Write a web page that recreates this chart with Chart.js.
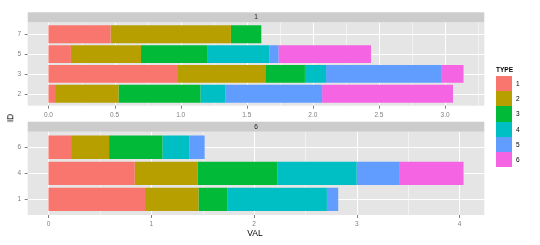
<!DOCTYPE html>
<html>
<head>
<meta charset="utf-8">
<script src="https://cdn.jsdelivr.net/npm/chart.js@4/dist/chart.umd.min.js"></script>
<style>
    body {margin: 0; background: #fff; font-family: "Liberation Sans", Arial, sans-serif;}
    #wrap {position: relative; width: 540px; height: 245px; overflow: hidden;}
    canvas {position: absolute; left: 0; top: 0;}
    .lbl {position: absolute; white-space: nowrap;}
</style>
</head>
<body>
<div id="wrap">
    <canvas id="facet-1" width="540" height="245"></canvas>
    <canvas id="facet-6" width="540" height="245"></canvas>
    <div class="lbl" id="x-title" style="left:240px; top:228px; width:30px; text-align:center; font-size:8.5px; color:#000;">VAL</div>
    <div class="lbl" id="y-title" style="left:6px; top:113px; font-size:8.5px; color:#000; transform:rotate(-90deg); transform-origin:center;">ID</div>
    <div id="legend"></div>
</div>
<script>
const types = ['1', '2', '3', '4', '5', '6'];
const typeColors = ['#F8766D', '#B79F00', '#00BA38', '#00BFC4', '#619CFF', '#F564E3'];
const facetLabels = ['1', '6'];

// facet "1"
const f1Ids = ['7', '5', '3', '2'];
const f1Type1 = [0.47, 0.17, 0.98, 0.05];
const f1Type2 = [0.91, 0.53, 0.66, 0.48];
const f1Type3 = [0.23, 0.50, 0.30, 0.62];
const f1Type4 = [null, 0.47, 0.16, 0.19];
const f1Type5 = [null, 0.07, 0.87, 0.73];
const f1Type6 = [null, 0.70, 0.17, 0.99];
const f1Ticks = [0, 0.5, 1, 1.5, 2, 2.5, 3];

// facet "6"
const f6Ids = ['6', '4', '1'];
const f6Type1 = [0.22, 0.84, 0.94];
const f6Type2 = [0.37, 0.61, 0.52];
const f6Type3 = [0.52, 0.78, 0.28];
const f6Type4 = [0.26, 0.77, 0.97];
const f6Type5 = [0.15, 0.42, 0.11];
const f6Type6 = [null, 0.62, null];
const f6Ticks = [0, 1, 2, 3, 4];

const panelLeft = 27.7, panelRight = 484.3;
const tickColor = '#7F7F7F';

// draws ggplot-ish panel background, grid, strip and tick marks
const panelPlugin = {
    id: 'ggPanel',
    beforeDatasetsDraw(chart, args, opts) {
        const {ctx, chartArea: a, scales} = chart;
        const n = chart.data.labels.length;
        const ext = 0.1 * (a.bottom - a.top) / n;
        const top = a.top - ext, bottom = a.bottom + ext;
        ctx.save();
        ctx.fillStyle = '#E5E5E5';
        ctx.fillRect(a.left, top, a.right - a.left, bottom - top);

        const major = opts.ticks;
        const step = major[1] - major[0];
        const minor = [];
        for (let i = 0; i <= major.length; i++) minor.push(major[0] - step / 2 + i * step);
        ctx.lineWidth = 1;
        ctx.strokeStyle = '#F2F2F2';
        minor.forEach(v => {
            if (v < scales.x.min || v > scales.x.max) return;
            const x = Math.round(scales.x.getPixelForValue(v)) + 0.5;
            ctx.beginPath(); ctx.moveTo(x, top); ctx.lineTo(x, bottom); ctx.stroke();
        });
        ctx.strokeStyle = '#FFFFFF';
        major.forEach(v => {
            const x = Math.round(scales.x.getPixelForValue(v)) + 0.5;
            ctx.beginPath(); ctx.moveTo(x, top); ctx.lineTo(x, bottom); ctx.stroke();
        });
        chart.data.labels.forEach((l, i) => {
            const y = Math.round(scales.y.getPixelForValue(i)) + 0.5;
            ctx.beginPath(); ctx.moveTo(a.left, y); ctx.lineTo(a.right, y); ctx.stroke();
        });

        // strip
        ctx.fillStyle = '#CCCCCC';
        ctx.fillRect(a.left, top - 10, a.right - a.left, 10);
        ctx.fillStyle = '#1A1A1A';
        ctx.font = '6.5px "Liberation Sans", Arial, sans-serif';
        ctx.textAlign = 'center';
        ctx.textBaseline = 'middle';
        ctx.fillText(opts.strip, (a.left + a.right) / 2, top - 4.8);

        // tick marks
        ctx.strokeStyle = tickColor;
        major.forEach(v => {
            const x = Math.round(scales.x.getPixelForValue(v)) + 0.5;
            ctx.beginPath(); ctx.moveTo(x, bottom); ctx.lineTo(x, bottom + 3); ctx.stroke();
        });
        chart.data.labels.forEach((l, i) => {
            const y = Math.round(scales.y.getPixelForValue(i)) + 0.5;
            ctx.beginPath(); ctx.moveTo(a.left - 3, y); ctx.lineTo(a.left, y); ctx.stroke();
        });
        ctx.restore();
    }
};

function renderFacet(canvasId, ids, series, ticks, xMin, xMax, panelTop, panelBottom, strip, fmt) {
    const unit = (panelBottom - panelTop) / (ids.length + 0.2);
    const chartTop = panelTop + 0.1 * unit;
    const chartBottom = panelBottom - 0.1 * unit;
    const xAxisHeight = 20;

    const ctx = document.getElementById(canvasId).getContext('2d');
    return new Chart(ctx, {
        type: 'bar',
        data: {
            labels: ids,
            datasets: series.map((data, i) => ({
                label: types[i],
                data: data,
                backgroundColor: typeColors[i],
                borderWidth: 0,
                categoryPercentage: 0.9,
                barPercentage: 1.0
            }))
        },
        options: {
            indexAxis: 'y',
            responsive: false,
            animation: false,
            layout: {
                padding: {top: chartTop, left: 0, right: 540 - panelRight, bottom: 245 - chartBottom - xAxisHeight}
            },
            scales: {
                x: {
                    type: 'linear',
                    stacked: true,
                    min: xMin,
                    max: xMax,
                    afterBuildTicks: scale => { scale.ticks = ticks.map(v => ({value: v})); },
                    afterFit: scale => { scale.height = xAxisHeight; },
                    ticks: {
                        color: tickColor,
                        font: {family: '"Liberation Sans", Arial, sans-serif', size: 6.5},
                        padding: (panelBottom + 5.5) - chartBottom,
                        maxRotation: 0,
                        autoSkip: false,
                        callback: v => fmt(v)
                    },
                    grid: {display: false, drawTicks: false},
                    border: {display: false}
                },
                y: {
                    stacked: true,
                    afterFit: scale => { scale.width = panelLeft; },
                    ticks: {
                        color: tickColor,
                        font: {family: '"Liberation Sans", Arial, sans-serif', size: 6.5},
                        padding: 6.5
                    },
                    grid: {display: false, drawTicks: false},
                    border: {display: false}
                }
            },
            plugins: {
                legend: {display: false},
                tooltip: {enabled: false},
                ggPanel: {ticks: ticks, strip: strip}
            }
        },
        plugins: [panelPlugin]
    });
}

renderFacet('facet-1', f1Ids, [f1Type1, f1Type2, f1Type3, f1Type4, f1Type5, f1Type6],
    f1Ticks, -0.157, 3.297, 22.3, 105.7, facetLabels[0], v => v.toFixed(1));
renderFacet('facet-6', f6Ids, [f6Type1, f6Type2, f6Type3, f6Type4, f6Type5, f6Type6],
    f6Ticks, -0.202, 4.242, 131.7, 215, facetLabels[1], v => v.toFixed(0));

// legend
const legend = document.getElementById('legend');
let html = '<div class="lbl" style="left:496px; top:66px; font-size:6.5px; font-weight:bold; color:#000;">TYPE</div>';
types.forEach((t, i) => {
    const top = 76 + i * 15.2;
    html += `<div style="position:absolute; left:496px; top:${top}px; width:16px; height:15.2px; background:${typeColors[i]};"></div>`;
    html += `<div class="lbl" style="left:516px; top:${top + 4}px; font-size:6.5px; color:#000;">${t}</div>`;
});
legend.innerHTML = html;
</script>
</body>
</html>
